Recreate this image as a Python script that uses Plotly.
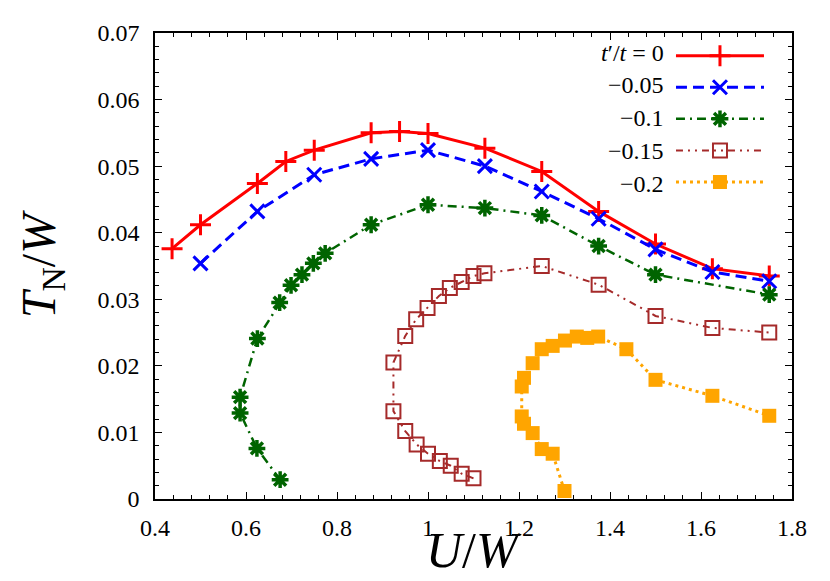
import plotly.graph_objects as go

# T_N/W vs U/W for several t'/t
u_0 = [0.4375, 0.5, 0.625, 0.6875, 0.75, 0.875, 0.9375, 1.0, 1.125, 1.25, 1.375, 1.5, 1.625, 1.75]
tn_0 = [0.0376, 0.0412, 0.0474, 0.0507, 0.0524, 0.0550, 0.0552, 0.0549, 0.0527, 0.0492, 0.0432, 0.0383, 0.0346, 0.0335]

u_005 = [0.5, 0.625, 0.75, 0.875, 1.0, 1.125, 1.25, 1.375, 1.5, 1.625, 1.75]
tn_005 = [0.0354, 0.0432, 0.0487, 0.0511, 0.0524, 0.0500, 0.0462, 0.0421, 0.0375, 0.0341, 0.0327]

u_01 = [0.675, 0.624, 0.587, 0.587, 0.625, 0.674, 0.699, 0.723, 0.748, 0.774, 0.875, 1.0, 1.125, 1.25, 1.375, 1.5, 1.75]
tn_01 = [0.0029, 0.0076, 0.0129, 0.0153, 0.0241, 0.0295, 0.0321, 0.0337, 0.0354, 0.0369, 0.0412, 0.0442, 0.0437, 0.0426, 0.0380, 0.0337, 0.0307]

u_015 = [1.1, 1.074, 1.05, 1.026, 1.0, 0.975, 0.95, 0.924, 0.924, 0.95, 0.974, 0.999, 1.024, 1.048, 1.074, 1.1, 1.124,
         1.25, 1.375, 1.5, 1.625, 1.75]
tn_015 = [0.0031, 0.0038, 0.0050, 0.0057, 0.0068, 0.0082, 0.0102, 0.0132, 0.0205, 0.0245, 0.0270, 0.0287, 0.0305,
          0.0317, 0.0326, 0.0335, 0.0339, 0.0350, 0.0322, 0.0275, 0.0257, 0.0250]

u_02 = [1.3, 1.274, 1.25, 1.23, 1.211, 1.206, 1.206, 1.211, 1.23, 1.25, 1.274, 1.301, 1.327, 1.35, 1.374,
        1.436, 1.5, 1.625, 1.75]
tn_02 = [0.0012, 0.0068, 0.0075, 0.0099, 0.0113, 0.0124, 0.0169, 0.0182, 0.0204, 0.0225, 0.0230, 0.0238, 0.0244,
         0.0242, 0.0244, 0.0225, 0.0179, 0.0155, 0.0125]

legend_labels = ["<i>t</i>′/<i>t</i> = 0", "−0.05", "−0.1", "−0.15", "−0.2"]

font = "Liberation Serif"

fig = go.Figure()

fig.add_trace(go.Scatter(
    x=u_0, y=tn_0, mode="lines+markers", name=" ",
    line=dict(color="#ff0000", width=3),
    marker=dict(symbol="cross-thin-open", size=15, line=dict(color="#ff0000", width=3)),
))
fig.add_trace(go.Scatter(
    x=u_005, y=tn_005, mode="lines+markers", name=" ",
    line=dict(color="#0000ff", width=3, dash="11px,6px"),
    marker=dict(symbol="x-thin-open", size=14, line=dict(color="#0000ff", width=3)),
))
fig.add_trace(go.Scatter(
    x=u_01, y=tn_01, mode="lines+markers", name=" ",
    line=dict(color="#006400", width=2.5, dash="9px,5px,2px,5px"),
    marker=dict(symbol="asterisk-open", size=14, line=dict(color="#006400", width=3.5)),
))
fig.add_trace(go.Scatter(
    x=u_015, y=tn_015, mode="lines+markers", name=" ",
    line=dict(color="#a52a2a", width=2, dash="7px,5px,2px,5px,2px,5px"),
    marker=dict(symbol="square-open", size=14, line=dict(color="#a52a2a", width=2)),
))
fig.add_trace(go.Scatter(
    x=u_02, y=tn_02, mode="lines+markers", name=" ",
    line=dict(color="#ffa500", width=3, dash="3px,4px"),
    marker=dict(symbol="square", size=14, color="#ffa500"),
))

axis_common = dict(
    showline=True, linecolor="black", linewidth=1.5, mirror="ticks",
    ticks="inside", ticklen=7, tickwidth=1.2, tickcolor="black",
    showgrid=False, zeroline=False,
    tickfont=dict(family=font, size=24, color="black"),
)

fig.update_xaxes(
    range=[0.4, 1.8], dtick=0.2, tick0=0.4, tickformat="~g", ticklabelstandoff=6,
    minor=dict(dtick=0.04, ticks="inside", ticklen=4, tickcolor="black"),
    **axis_common,
)
fig.update_yaxes(
    range=[0, 0.07], dtick=0.01, tickformat="~g", ticklabelstandoff=9,
    minor=dict(dtick=0.002, ticks="inside", ticklen=4, tickcolor="black"),
    title=dict(text="<i>T</i><sub>N</sub>/<i>W</i>", font=dict(family=font, size=48, color="black"), standoff=27),
    **axis_common,
)

# x axis title placed as annotation so it can sit closer to the tick labels
fig.add_annotation(
    text="<i>U</i>/<i>W</i>", xref="paper", yref="paper", x=0.5, y=-0.11,
    xanchor="center", yanchor="middle", showarrow=False,
    font=dict(family=font, size=50, color="black"),
)

row_y = [0.958, 0.888, 0.817, 0.747, 0.677]
for lab, yy in zip(legend_labels, row_y):
    fig.add_annotation(
        text=lab, xref="paper", yref="paper", x=0.802, y=yy,
        xanchor="right", yanchor="middle", showarrow=False,
        font=dict(family=font, size=24, color="black"),
    )

fig.update_layout(
    width=830, height=581,
    margin=dict(l=147, r=46, t=22, b=90),
    plot_bgcolor="white", paper_bgcolor="white",
    font=dict(family=font, size=22, color="black"),
    legend=dict(
        x=0.810, y=0.996, xanchor="left", yanchor="top",
        bgcolor="rgba(0,0,0,0)", itemwidth=88,
        font=dict(family=font, size=22), tracegroupgap=0,
    ),
)

fig.write_html("out.html")
